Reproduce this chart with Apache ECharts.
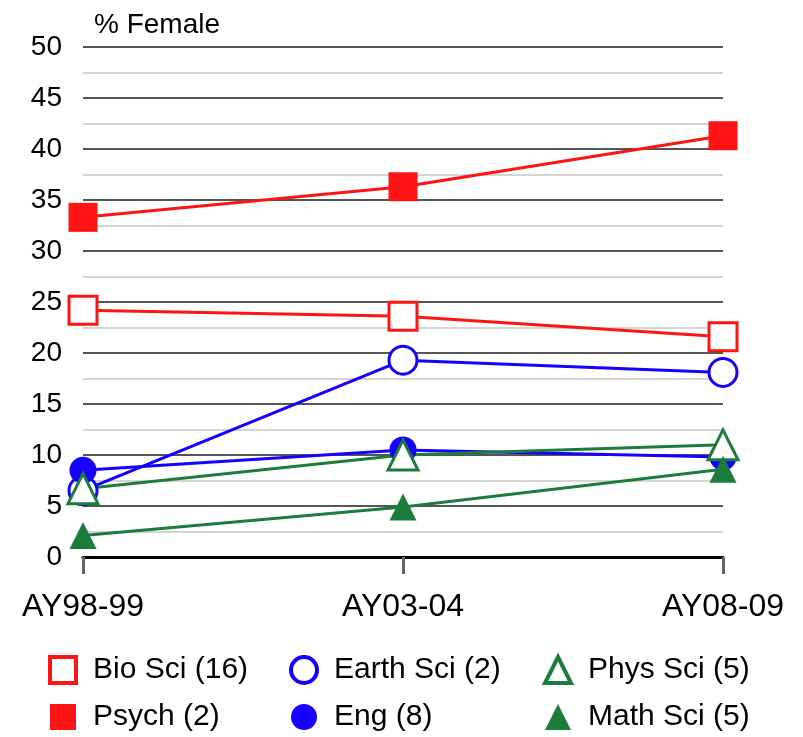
<!DOCTYPE html>
<html>
<head>
<meta charset="utf-8">
<script src="https://cdn.jsdelivr.net/npm/echarts@6/dist/echarts.min.js"></script>
<style>
html,body{margin:0;padding:0;background:#fff;}
#c{width:803px;height:737px;}
</style>
</head>
<body>
<div id="c"></div>
<script>
var categories = ['AY98-99', 'AY03-04', 'AY08-09'];
var bioSci = [24.2, 23.6, 21.6];
var psych = [33.3, 36.3, 41.3];
var earthSci = [6.5, 19.3, 18.1];
var eng = [8.5, 10.5, 9.8];
var physSci = [6.7, 10.0, 11.0];
var mathSci = [2.1, 4.9, 8.6];
var seriesNames = ['Bio Sci (16)', 'Psych (2)', 'Earth Sci (2)', 'Eng (8)', 'Phys Sci (5)', 'Math Sci (5)'];

var RED = '#ff1414', BLUE = '#1600ff', GREEN = '#1b7c3c';
var FONT = '"Liberation Sans", Arial, Helvetica, sans-serif';

function mk(name, data, color, symbol, hollow, size) {
  return {
    name: name, type: 'line', data: data,
    symbol: symbol, symbolSize: size,
    showAllSymbol: true,
    lineStyle: {color: color, width: 3},
    itemStyle: hollow ? {color: '#fff', borderColor: color, borderWidth: 3}
                      : {color: color, borderWidth: 0},
    emphasis: {disabled: true},
    animation: false
  };
}

function legendAt(left, items) {
  return {
    left: left, top: 655, height: 80, width: 260,
    orient: 'vertical', itemWidth: 26, itemHeight: 26, itemGap: 17,
    padding: 0, selectedMode: false,
    data: items,
    textStyle: {fontSize: 30, lineHeight: 30, color: '#000', fontFamily: FONT, padding: [0, 0, 0, 12]}
  };
}
function hollowItem(name, icon, color) {
  return {name: name, icon: icon, itemStyle: {color: '#fff', borderColor: color, borderWidth: 4}};
}

var option = {
  backgroundColor: '#fff',
  animation: false,
  title: {
    text: '% Female', left: 89, top: 6,
    textStyle: {fontSize: 28, fontWeight: 'normal', color: '#000', fontFamily: FONT}
  },
  legend: [
    legendAt(48, [hollowItem(seriesNames[0], 'rect', RED), {name: seriesNames[1], icon: 'rect'}]),
    legendAt(289, [hollowItem(seriesNames[2], 'circle', BLUE), {name: seriesNames[3], icon: 'circle'}]),
    legendAt(543, [hollowItem(seriesNames[4], 'triangle', GREEN), {name: seriesNames[5], icon: 'triangle'}])
  ],
  grid: {left: 83, right: 80, top: 47, bottom: 180, containLabel: false},
  xAxis: {
    type: 'category', data: categories, boundaryGap: false,
    axisLine: {lineStyle: {color: '#000', width: 3}},
    axisTick: {show: true, length: 17, lineStyle: {color: '#666', width: 3}},
    axisLabel: {fontSize: 32, color: '#000', fontFamily: FONT, margin: 34}
  },
  yAxis: {
    type: 'value', min: 0, max: 50, interval: 5,
    axisLine: {show: false}, axisTick: {show: false},
    axisLabel: {fontSize: 28, color: '#000', fontFamily: FONT, margin: 21},
    splitLine: {lineStyle: {color: '#555', width: 2}},
    minorTick: {show: false, splitNumber: 2},
    minorSplitLine: {show: true, lineStyle: {color: '#d4d4d4', width: 2}}
  },
  series: [
    mk(seriesNames[0], bioSci, RED, 'rect', true, 28),
    mk(seriesNames[1], psych, RED, 'rect', false, 29),
    mk(seriesNames[2], earthSci, BLUE, 'circle', true, 28),
    mk(seriesNames[3], eng, BLUE, 'circle', false, 27),
    mk(seriesNames[4], physSci, GREEN, 'triangle', true, 30),
    mk(seriesNames[5], mathSci, GREEN, 'triangle', false, 27)
  ]
};

var chart = echarts.init(document.getElementById('c'), null, {renderer: 'canvas'});
chart.setOption(option);
</script>
</body>
</html>
